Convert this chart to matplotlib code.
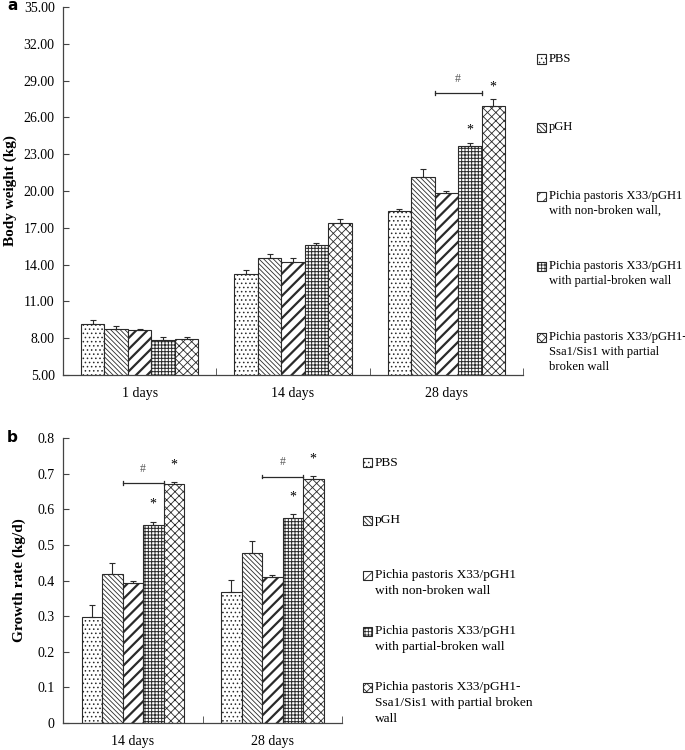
import numpy as np
import matplotlib
matplotlib.use("Agg")
from matplotlib import pyplot as plt
from matplotlib.patches import Rectangle

plt.rcParams['font.family'] = ['Liberation Serif', 'DejaVu Serif']
plt.rcParams['hatch.linewidth'] = 0.6

# data
groups = ["PBS", "pGH",
          "Pichia pastoris X33/pGH1\nwith non-broken wall,",
          "Pichia pastoris X33/pGH1\nwith partial-broken wall",
          "Pichia pastoris X33/pGH1-\nSsa1/Sis1 with partial\nbroken wall"]
groups_b = ["PBS", "pGH",
            "Pichia pastoris X33/pGH1\nwith non-broken wall",
            "Pichia pastoris X33/pGH1\nwith partial-broken wall",
            "Pichia pastoris X33/pGH1-\nSsa1/Sis1 with partial broken\nwall"]

days_a = ["1 days", "14 days", "28 days"]
weight = np.array([[9.13, 13.20, 18.37],
                   [8.75, 14.50, 21.16],
                   [8.64, 14.18, 19.86],
                   [7.83, 15.60, 23.69],
                   [7.91, 17.36, 26.90]])
weight_err = np.array([[0.35, 0.38, 0.19],
                       [0.27, 0.33, 0.60],
                       [0.13, 0.32, 0.16],
                       [0.30, 0.13, 0.20],
                       [0.20, 0.38, 0.57]])

days_b = ["14 days", "28 days"]
growth = np.array([[0.296, 0.367],
                   [0.417, 0.478],
                   [0.394, 0.409],
                   [0.556, 0.575],
                   [0.671, 0.686]])
growth_err = np.array([[0.034, 0.034],
                       [0.031, 0.032],
                       [0.006, 0.006],
                       [0.009, 0.011],
                       [0.007, 0.009]])

# styles
hatches = ['....', '\\\\\\\\\\\\\\', '///', '+++++', 'xxxx']
hatch_lw = [0.6, 0.6, 1.6, 0.7, 0.6]
edge = '#2a2a2a'


def draw_bars(ax, vals, errs, w):
    n = vals.shape[1]
    x = np.arange(n)
    for j in range(vals.shape[0]):
        xs = x + (j - 2) * w
        with plt.rc_context({'hatch.linewidth': hatch_lw[j]}):
            bars = ax.bar(xs, vals[j], width=w, color='white', edgecolor=edge,
                          linewidth=0.8, hatch=hatches[j], zorder=2)
        for b in bars:
            if hasattr(b, 'set_hatch_linewidth'):
                b.set_hatch_linewidth(hatch_lw[j])
        ax.errorbar(xs, vals[j], yerr=[np.zeros(n), errs[j]], fmt='none',
                    ecolor=edge, elinewidth=0.8, capsize=2.5, capthick=0.8, zorder=3)


def style_axis(ax, ncat):
    for s in ['top', 'right']:
        ax.spines[s].set_visible(False)
    for s in ['left', 'bottom']:
        ax.spines[s].set_color('#444444')
        ax.spines[s].set_linewidth(0.9)
    ax.set_xlim(-0.5, ncat - 0.5)
    ax.set_xticks(np.arange(ncat))
    ax.set_xticks(np.arange(ncat) + 0.5, minor=True)
    ax.tick_params(axis='x', which='major', length=0, pad=9, labelsize=10)
    ax.tick_params(axis='x', which='minor', direction='in', length=5, color='#444444')
    ax.tick_params(axis='y', direction='in', length=4, color='#444444', labelsize=10, pad=6)


def bracket(ax, x0, x1, y, h):
    ax.plot([x0, x1], [y, y], color=edge, lw=0.9)
    ax.plot([x0, x0], [y - h, y + h], color=edge, lw=0.9)
    ax.plot([x1, x1], [y - h, y + h], color=edge, lw=0.9)


def legend(fig, labels, bx, ys, lh, fs):
    W, H = 685.0, 750.0
    for j, lab in enumerate(labels):
        y = ys[j]
        r = Rectangle((bx / W, 1 - (y + 4.5) / H), 9 / W, 9 / H, transform=fig.transFigure,
                      facecolor='white', edgecolor=edge, linewidth=0.8, hatch=hatches[j])
        fig.add_artist(r)
        lines = lab.split('\n')
        for k, t in enumerate(lines):
            fig.text((bx + 12) / W, 1 - (y + k * lh) / H, t, fontsize=fs, va='center', ha='left')


fig = plt.figure(figsize=(6.85, 7.5), dpi=100)

# panel a
ax1 = fig.add_axes([0.092, 0.5, 0.6715, 0.4907])
wa = 0.153
draw_bars(ax1, weight, weight_err, wa)
style_axis(ax1, 3)
ax1.set_ylim(5, 35)
ax1.set_yticks(np.arange(5, 35.1, 3))
ax1.set_yticklabels(["%.2f" % v for v in np.arange(5, 35.1, 3)])
ax1.set_xticklabels(days_a)
ax1.set_ylabel("Body weight (kg)", fontsize=11, fontweight='bold', labelpad=5)
bracket(ax1, 2 - wa / 2, 2 + 1.5 * wa, 28.0, 0.15)
ax1.text(2 + 0.5 * wa, 29.1, "#", ha='center', va='center', fontsize=8.5, color='#555555')
ax1.text(2 + wa, 25.0, "*", ha='center', va='center', fontsize=10)
ax1.text(2 + 2 * wa, 28.5, "*", ha='center', va='center', fontsize=10)

# panel b
ax2 = fig.add_axes([0.092, 0.0364, 0.4073, 0.3792])
wb = 0.147
draw_bars(ax2, growth, growth_err, wb)
style_axis(ax2, 2)
ax2.set_ylim(0, 0.8)
ax2.set_yticks(np.arange(0, 0.81, 0.1))
ax2.set_yticklabels(["0"] + ["%.1f" % v for v in np.arange(0.1, 0.81, 0.1)])
ax2.set_xticklabels(days_b)
ax2.set_ylabel("Growth rate (kg/d)", fontsize=11, fontweight='bold', labelpad=8)
br_y = [0.675, 0.692]
for i in range(2):
    bracket(ax2, i - wb / 2, i + 1.5 * wb, br_y[i], 0.005)
    ax2.text(i + 0.5 * wb, br_y[i] + 0.04, "#", ha='center', va='center', fontsize=8.5, color='#555555')
    ax2.text(i + wb, growth[3, i] + 0.06, "*", ha='center', va='center', fontsize=10)
    ax2.text(i + 2 * wb, growth[4, i] + 0.055, "*", ha='center', va='center', fontsize=10)

legend(fig, groups, 537, [59, 127, 196, 266, 337], 15, 9.1)
legend(fig, groups_b, 363, [463, 520, 575, 631, 687], 16, 9.6)

fig.text(7 / 685, 1 - 6 / 750, "a", fontsize=11, fontweight='bold', family='DejaVu Sans', va='center')
fig.text(7 / 685, 1 - 437 / 750, "b", fontsize=11, fontweight='bold', family='DejaVu Sans', va='center')

fig.savefig("out.png", dpi=100)
